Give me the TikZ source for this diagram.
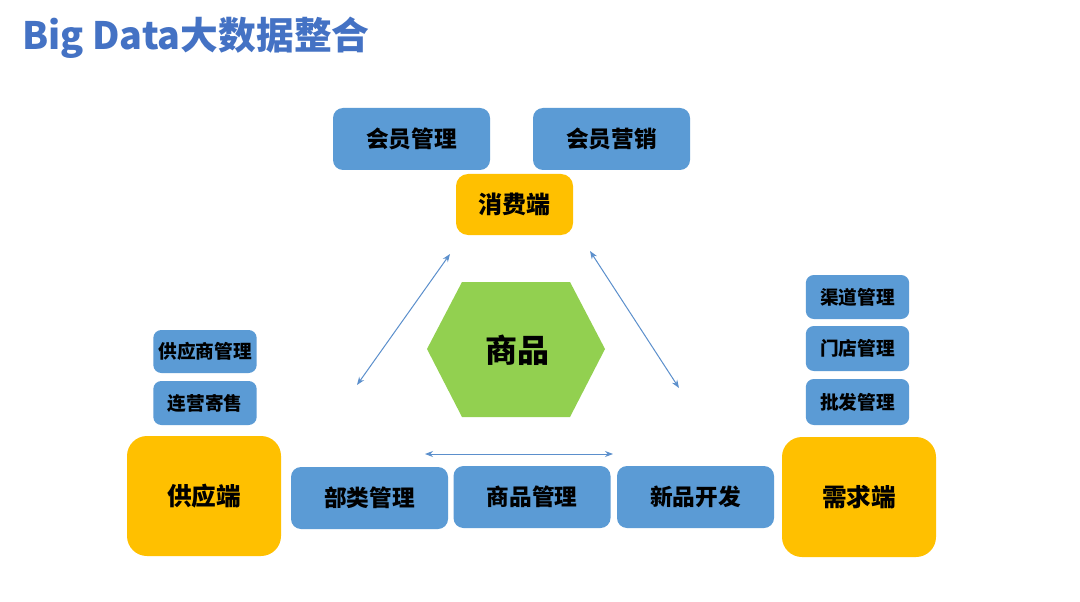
\documentclass[tikz,border=0pt]{standalone}
\usepackage{fontspec}
\newfontfamily\cjk{Noto Sans CJK SC}
\usetikzlibrary{arrows.meta}
\definecolor{boxblue}{HTML}{5B9BD5}
\definecolor{endorange}{HTML}{FFC000}
\definecolor{hexgreen}{HTML}{92D050}
\definecolor{titleblue}{HTML}{4472C4}
\definecolor{arrowblue}{HTML}{5B8FCC}
\tikzset{
  bigblue/.style={fill=boxblue, rounded corners=7.5pt, inner sep=0pt, text=black,
    minimum width=117.75pt, minimum height=46.5pt, font=\cjk\bfseries\fontsize{17}{20}\selectfont},
  smallblue/.style={fill=boxblue, rounded corners=6pt, inner sep=0pt, text=black,
    minimum width=77.5pt, minimum height=33pt, font=\cjk\bfseries\fontsize{14}{17}\selectfont},
  endbox/.style={fill=endorange, rounded corners=15pt, inner sep=0pt, text=black,
    minimum width=115.5pt, minimum height=90pt, font=\cjk\bfseries\fontsize{18.5}{22}\selectfont},
  linkarrow/.style={draw=arrowblue, line width=0.75pt, {Stealth[length=6pt,width=4.5pt]}-{Stealth[length=6pt,width=4.5pt]}},
}
\begin{document}
\begin{tikzpicture}[x=0.75pt,y=-0.75pt]
\useasboundingbox (0,0) rectangle (1080,602);
\fill[white] (0,0) rectangle (1080,602);
% title
\node[anchor=west, inner sep=0pt, text=titleblue, font=\cjk\bfseries\fontsize{28.3}{32}\selectfont] (title) at (22,38) {Big Data大数据整合};
% hexagon
\fill[hexgreen] (427,349) -- (462,282) -- (570,282) -- (605,349) -- (570,417) -- (462,417) -- cycle;
\node[inner sep=0pt, text=black, font=\cjk\bfseries\fontsize{24}{28}\selectfont] (sp) at (517,350) {商品};
% top
\node[bigblue] (hygl) at (411.5,139) {会员管理};
\node[bigblue] (hyyx) at (611.5,139) {会员营销};
\node[fill=endorange, rounded corners=9pt, inner sep=0pt, text=black, minimum width=87.75pt, minimum height=45.75pt, font=\cjk\bfseries\fontsize{18}{22}\selectfont] (xfd) at (514.5,204.5) {消费端};
% left
\node[smallblue, minimum height=32.25pt] (gysgl) at (205,351.5) {供应商管理};
\node[smallblue] (lyjs) at (205,403) {连营寄售};
\node[endbox] (gyd) at (204,496) {供应端};
% bottom
\node[bigblue] (blgl) at (369.5,498) {部类管理};
\node[bigblue] (spgl) at (532,497) {商品管理};
\node[bigblue] (xpkf) at (695.5,497) {新品开发};
% right
\node[smallblue] (qdgl) at (857.5,297) {渠道管理};
\node[smallblue, minimum height=33.75pt] (mdgl) at (857.5,348.5) {门店管理};
\node[smallblue, minimum height=34.5pt] (pfgl) at (857.5,402) {批发管理};
\node[endbox] (xqd) at (859,497) {需求端};
% arrows
\coordinate (a1) at (450,254);
\coordinate (a2) at (357,385);
\coordinate (b1) at (590,251);
\coordinate (b2) at (679,388);
\coordinate (c1) at (425,454);
\coordinate (c2) at (613,454);
\draw[linkarrow] (a1) -- (a2);
\draw[linkarrow] (b1) -- (b2);
\draw[linkarrow] (c1) -- (c2);
\end{tikzpicture}
\end{document}
